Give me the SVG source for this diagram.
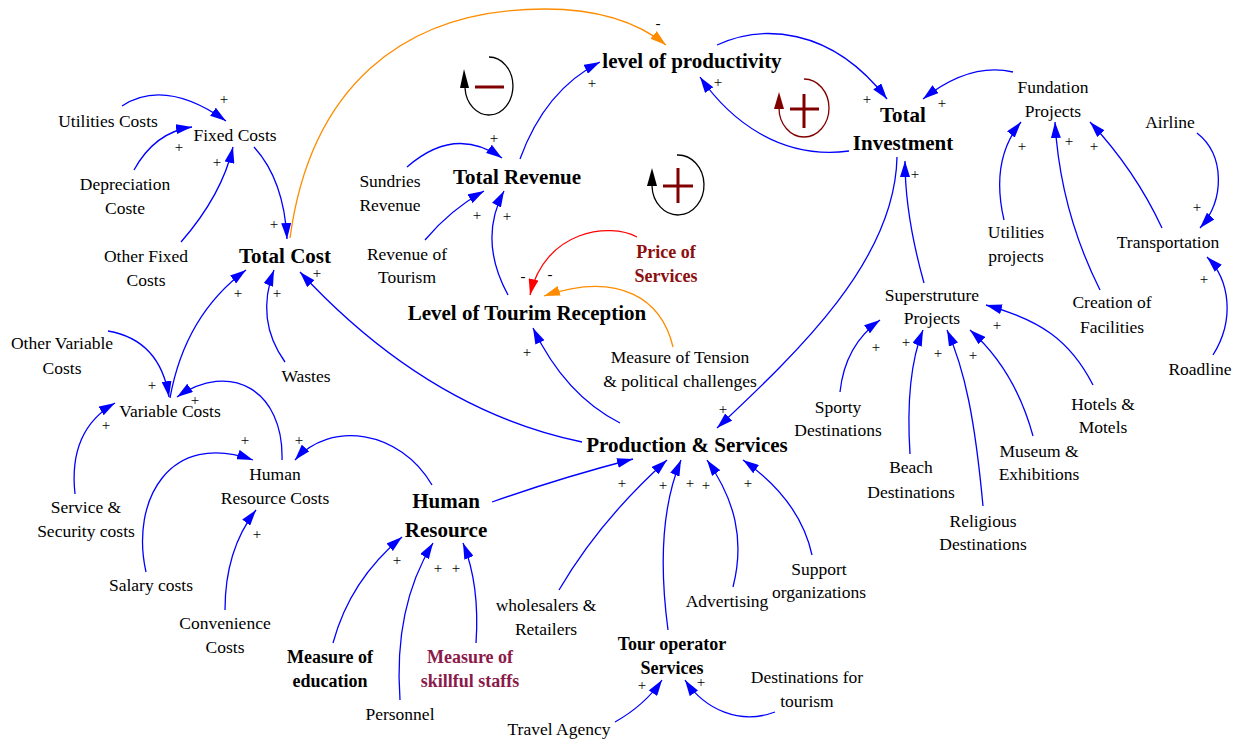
<svg xmlns="http://www.w3.org/2000/svg" width="1235" height="743" viewBox="0 0 1235 743">
<defs>
<style>
.t{font-family:"Liberation Serif","Times New Roman",serif;font-size:17.5px;fill:#000;text-anchor:middle}
.b{font-weight:bold;font-size:21px}
.bs{font-weight:bold;font-size:18px}
.pr{fill:#8B0F0F}
.sk{fill:#8B1A4A}
.s{font-family:"Liberation Serif","Times New Roman",serif;font-size:15px;fill:#000;text-anchor:middle}
.c{fill:none;stroke:#0000FF;stroke-width:1.3;marker-end:url(#ab)}
.co{fill:none;stroke:#FF8C00;stroke-width:1.3;marker-end:url(#ao)}
.cr{fill:none;stroke:#FF0000;stroke-width:1.3;marker-end:url(#ar)}
.lp{fill:none;stroke:#000;stroke-width:1.3}
.lpr{fill:none;stroke:#800000;stroke-width:1.3}
.sym{stroke:#800000;stroke-width:3;fill:none}
</style>
<marker id="ab" markerUnits="userSpaceOnUse" markerWidth="16" markerHeight="10" refX="16" refY="5" orient="auto"><path d="M0,0 L16,5 L0,10 z" fill="#0000FF"/></marker>
<marker id="ao" markerUnits="userSpaceOnUse" markerWidth="16" markerHeight="10" refX="16" refY="5" orient="auto"><path d="M0,0 L16,5 L0,10 z" fill="#FF8C00"/></marker>
<marker id="ar" markerUnits="userSpaceOnUse" markerWidth="16" markerHeight="10" refX="16" refY="5" orient="auto"><path d="M0,0 L16,5 L0,10 z" fill="#FF0000"/></marker>
</defs>
<rect width="1235" height="743" fill="#fff"/>

<g id="connectors">
<path class="c" d="M122,106 Q165,78 226,121"/>
<path class="c" d="M134,170 Q155,132 192,127"/>
<path class="c" d="M181,242 Q222,195 233,147"/>
<path class="c" d="M254,147 Q284,180 287,239"/>
<path class="co" d="M290,238 C310,90 400,9 545,9 C610,9 645,28 666,45"/>
<path class="c" d="M108,331 Q160,340 169,397"/>
<path class="c" d="M170,398 Q185,315 246,270"/>
<path class="c" d="M285,362 Q255,320 274,270"/>
<path class="c" d="M582,442 C500,425 400,380 300,272"/>
<path class="c" d="M282,460 C284,390 230,360 177,397"/>
<path class="c" d="M75,494 Q68,430 115,403"/>
<path class="c" d="M146,572 C130,500 170,430 253,460"/>
<path class="c" d="M225,610 Q225,550 256,510"/>
<path class="c" d="M432,485 C400,430 330,420 295,460"/>
<path class="c" d="M492,502 Q560,478 633,459"/>
<path class="c" d="M559,590 Q600,520 667,460"/>
<path class="c" d="M668,630 C660,570 660,510 681,460"/>
<path class="c" d="M733,587 C745,540 735,500 707,460"/>
<path class="c" d="M812,555 Q800,500 743,460"/>
<path class="c" d="M897,157 C895,260 800,350 717,428"/>
<path class="c" d="M620,423 Q565,395 533,328"/>
<path class="cr" d="M637,237 C610,222 545,230 530,295"/>
<path class="co" d="M673,347 C662,300 620,270 544,296"/>
<path class="c" d="M508,295 Q478,240 504,191"/>
<path class="c" d="M425,240 Q450,210 484,191"/>
<path class="c" d="M407,167 Q455,125 502,158"/>
<path class="c" d="M520,159 Q545,90 600,62"/>
<path class="c" d="M717,45 C760,25 830,25 887,99"/>
<path class="c" d="M849,151 C780,160 730,120 700,77"/>
<path class="c" d="M1013,72 Q970,62 923,99"/>
<path class="c" d="M924,283 Q905,215 905,161"/>
<path class="c" d="M1004,220 Q990,160 1021,122"/>
<path class="c" d="M1100,290 Q1060,210 1055,122"/>
<path class="c" d="M1162,228 Q1135,170 1090,122"/>
<path class="c" d="M1197,133 C1225,155 1225,200 1200,228"/>
<path class="c" d="M1213,355 C1235,320 1230,280 1207,257"/>
<path class="c" d="M840,392 Q845,345 880,320"/>
<path class="c" d="M910,454 Q905,375 923,330"/>
<path class="c" d="M983,506 C975,420 965,370 947,330"/>
<path class="c" d="M1033,436 Q1015,370 970,330"/>
<path class="c" d="M1093,385 C1070,340 1040,320 986,305"/>
<path class="c" d="M333,643 Q350,580 402,537"/>
<path class="c" d="M400,700 C395,630 410,580 433,543"/>
<path class="c" d="M476,643 Q480,585 463,543"/>
<path class="c" d="M615,722 Q645,705 662,680"/>
<path class="c" d="M775,712 C740,725 705,710 685,680"/>
</g>

<g id="polarities">
<text class="s" x="224" y="104">+</text>
<text class="s" x="179" y="152">+</text>
<text class="s" x="217" y="167">+</text>
<text class="s" x="274" y="229">+</text>
<text class="s" x="238" y="298">+</text>
<text class="s" x="277" y="298">+</text>
<text class="s" x="317" y="278">+</text>
<text class="s" x="152" y="390">+</text>
<text class="s" x="195" y="405">+</text>
<text class="s" x="106" y="430">+</text>
<text class="s" x="245" y="445">+</text>
<text class="s" x="299" y="445">+</text>
<text class="s" x="257" y="539">+</text>
<text class="s" x="397" y="565">+</text>
<text class="s" x="438" y="573">+</text>
<text class="s" x="456" y="573">+</text>
<text class="s" x="622" y="488">+</text>
<text class="s" x="663" y="490">+</text>
<text class="s" x="690" y="488">+</text>
<text class="s" x="706" y="490">+</text>
<text class="s" x="748" y="488">+</text>
<text class="s" x="723" y="414">+</text>
<text class="s" x="527" y="357">+</text>
<text class="s" x="507" y="221">+</text>
<text class="s" x="477" y="220">+</text>
<text class="s" x="494" y="143">+</text>
<text class="s" x="592" y="88">+</text>
<text class="s" x="718" y="87">+</text>
<text class="s" x="867" y="104">+</text>
<text class="s" x="942" y="108">+</text>
<text class="s" x="915" y="179">+</text>
<text class="s" x="1022" y="151">+</text>
<text class="s" x="1069" y="146">+</text>
<text class="s" x="1094" y="151">+</text>
<text class="s" x="1197" y="212">+</text>
<text class="s" x="1204" y="284">+</text>
<text class="s" x="876" y="352">+</text>
<text class="s" x="906" y="347">+</text>
<text class="s" x="938" y="358">+</text>
<text class="s" x="973" y="360">+</text>
<text class="s" x="997" y="330">+</text>
<text class="s" x="642" y="690">+</text>
<text class="s" x="701" y="687">+</text>
<text class="s" x="658" y="28">-</text>
<text class="s" x="523" y="281">-</text>
<text class="s" x="550" y="279">-</text>
</g>

<g id="loop-balancing">
<path class="lp" d="M489,57 A24,29 0 1,1 465,88"/>
<path d="M464,69 L460,88 L469,88 z" fill="#000"/>
<line class="sym" x1="475" y1="87" x2="504" y2="87"/>
</g>
<g id="loop-reinforcing-1">
<path class="lpr" d="M804,79 A25,29 0 1,1 779,108"/>
<path d="M779,92 L774,109 L784,109 z" fill="#800000"/>
<line class="sym" x1="790" y1="109" x2="819" y2="109"/>
<line class="sym" x1="804" y1="94" x2="804" y2="128"/>
</g>
<g id="loop-reinforcing-2">
<path class="lp" d="M677,155 A26,30 0 1,1 652,186"/>
<path d="M652,168 L647,186 L657,186 z" fill="#000"/>
<line class="sym" x1="663" y1="186" x2="693" y2="186"/>
<line class="sym" x1="678" y1="168" x2="678" y2="203"/>
</g>

<g id="utilities-costs"><text class="t" x="108" y="127">Utilities Costs</text></g>
<g id="fixed-costs"><text class="t" x="235" y="141">Fixed Costs</text></g>
<g id="depreciation"><text class="t" x="125" y="190">Depreciation</text><text class="t" x="125" y="214">Coste</text></g>
<g id="other-fixed"><text class="t" x="146" y="262">Other Fixed</text><text class="t" x="146" y="286">Costs</text></g>
<g id="total-cost"><text class="t b" x="285" y="263">Total Cost</text></g>
<g id="wastes"><text class="t" x="306" y="382">Wastes</text></g>
<g id="other-variable"><text class="t" x="62" y="349">Other Variable</text><text class="t" x="62" y="374">Costs</text></g>
<g id="variable-costs"><text class="t" x="170" y="417">Variable Costs</text></g>
<g id="hr-costs"><text class="t" x="275" y="480">Human</text><text class="t" x="275" y="504">Resource Costs</text></g>
<g id="service-security"><text class="t" x="86" y="513">Service &amp;</text><text class="t" x="86" y="537">Security costs</text></g>
<g id="salary"><text class="t" x="151" y="591">Salary costs</text></g>
<g id="convenience"><text class="t" x="225" y="629">Convenience</text><text class="t" x="225" y="653">Costs</text></g>
<g id="human-resource"><text class="t b" x="446" y="508">Human</text><text class="t b" x="446" y="537">Resource</text></g>
<g id="education"><text class="t bs" x="330" y="663">Measure of</text><text class="t bs" x="330" y="687">education</text></g>
<g id="personnel"><text class="t" x="400" y="720">Personnel</text></g>
<g id="skillful"><text class="t bs sk" x="470" y="663">Measure of</text><text class="t bs sk" x="470" y="687">skillful staffs</text></g>
<g id="wholesalers"><text class="t" x="546" y="611">wholesalers &amp;</text><text class="t" x="546" y="635">Retailers</text></g>
<g id="travel-agency"><text class="t" x="559" y="735">Travel Agency</text></g>
<g id="tour-operator"><text class="t bs" x="672" y="650">Tour operator</text><text class="t bs" x="672" y="674">Services</text></g>
<g id="destinations-tourism"><text class="t" x="807" y="683">Destinations for</text><text class="t" x="807" y="707">tourism</text></g>
<g id="advertising"><text class="t" x="727" y="607">Advertising</text></g>
<g id="support"><text class="t" x="819" y="575">Support</text><text class="t" x="819" y="598">organizations</text></g>
<g id="production-services"><text class="t b" x="687" y="452">Production &amp; Services</text></g>
<g id="tourism-reception"><text class="t b" x="527" y="320">Level of Tourim Reception</text></g>
<g id="tension"><text class="t" x="680" y="363">Measure of Tension</text><text class="t" x="680" y="387">&amp; political challenges</text></g>
<g id="price"><text class="t bs pr" x="666" y="258">Price of</text><text class="t bs pr" x="666" y="282">Services</text></g>
<g id="total-revenue"><text class="t b" x="517" y="184">Total Revenue</text></g>
<g id="sundries"><text class="t" x="390" y="187">Sundries</text><text class="t" x="390" y="211">Revenue</text></g>
<g id="revenue-tourism"><text class="t" x="407" y="260">Revenue of</text><text class="t" x="407" y="283">Tourism</text></g>
<g id="productivity"><text class="t b" x="692" y="68">level of productivity</text></g>
<g id="total-investment"><text class="t b" x="903" y="122">Total</text><text class="t b" x="903" y="150">Investment</text></g>
<g id="fundation"><text class="t" x="1053" y="93">Fundation</text><text class="t" x="1053" y="117">Projects</text></g>
<g id="airline"><text class="t" x="1170" y="128">Airline</text></g>
<g id="utilities-projects"><text class="t" x="1016" y="238">Utilities</text><text class="t" x="1016" y="262">projects</text></g>
<g id="creation"><text class="t" x="1112" y="308">Creation of</text><text class="t" x="1112" y="333">Facilities</text></g>
<g id="transportation"><text class="t" x="1168" y="248">Transportation</text></g>
<g id="roadline"><text class="t" x="1200" y="375">Roadline</text></g>
<g id="superstructure"><text class="t" x="932" y="301">Superstruture</text><text class="t" x="932" y="324">Projects</text></g>
<g id="sporty"><text class="t" x="838" y="413">Sporty</text><text class="t" x="838" y="436">Destinations</text></g>
<g id="beach"><text class="t" x="911" y="473">Beach</text><text class="t" x="911" y="498">Destinations</text></g>
<g id="religious"><text class="t" x="983" y="527">Religious</text><text class="t" x="983" y="550">Destinations</text></g>
<g id="museum"><text class="t" x="1039" y="457">Museum &amp;</text><text class="t" x="1039" y="480">Exhibitions</text></g>
<g id="hotels"><text class="t" x="1103" y="410">Hotels &amp;</text><text class="t" x="1103" y="433">Motels</text></g>
</svg>
